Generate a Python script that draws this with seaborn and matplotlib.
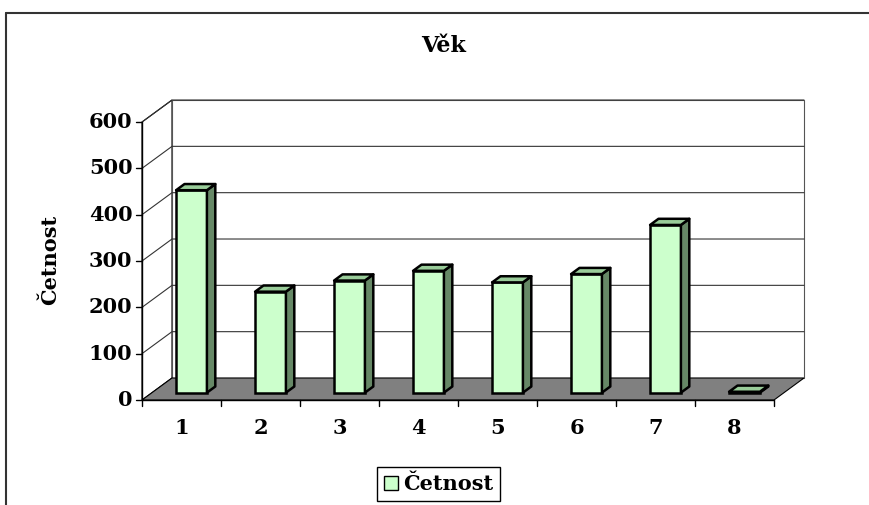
import matplotlib
matplotlib.use("Agg")
import matplotlib.pyplot as plt
from matplotlib.patches import Polygon, Patch
import seaborn as sns

# ---- data ----
categories = ["1", "2", "3", "4", "5", "6", "7", "8"]
values = [437, 218, 242, 263, 238, 256, 362, 2]
y_ticks = [0, 100, 200, 300, 400, 500, 600]
title = "Věk"
y_label = "Četnost"
legend_label = "Četnost"

# ---- colours ----
FACE = "#CCFFCC"
SIDE = "#668866"
TOP = "#99CC99"
FLOOR = "#808080"

sns.set_theme(style="white")
plt.rcParams["font.family"] = ["DejaVu Serif"]
plt.rcParams["text.color"] = "black"

W, H = 869, 505
fig = plt.figure(figsize=(W / 100, H / 100), dpi=100)
ax = fig.add_axes([0, 0, 1, 1])

# pixel mapping: x_px = X0 + (x+0.5)*PX ; y_px(from top) = Y0 - v*PV
X0, PX = 142.0, 79.0
Y0, PV = 400.0, 0.4633
DX = 30.0 / PX      # full depth in data units (x)
DV = 22.0 / PV      # full depth in data units (value)
F = 1.0 / 3.0       # bar front depth fraction
B = 0.28            # bar depth fraction
n = len(categories)
LW_BAR = 1.8

sns.barplot(x=categories, y=values, color=FACE, edgecolor="black",
            linewidth=LW_BAR, width=0.39, saturation=1, ax=ax, zorder=5)

xmin = -0.5 - X0 / PX
xmax = -0.5 + (W - X0) / PX
vmin = -(H - Y0) / PV
vmax = Y0 / PV
ax.set_xlim(xmin, xmax)
ax.set_ylim(vmin, vmax)
ax.axis("off")

def px2data(xp, yp):
    return xmin + xp / PX, vmax - yp / PV

# outer chart frame (top and left visible)
x_a, y_a = px2data(6, 13)
x_b, _ = px2data(W + 5, 13)
_, y_c = px2data(6, H + 5)
ax.plot([x_a, x_b], [y_a, y_a], color="#333333", lw=1.5, zorder=1, clip_on=False)
ax.plot([x_a, x_a], [y_a, y_c], color="#333333", lw=1.5, zorder=1, clip_on=False)

xl, xr = -0.5, n - 0.5
top = max(y_ticks)

# left side wall
ax.add_patch(Polygon([(xl, 0), (xl, top), (xl + DX, top + DV), (xl + DX, DV)],
                     closed=True, facecolor="white", edgecolor="black", lw=0.8, zorder=2))
# back wall
ax.add_patch(Polygon([(xl + DX, DV), (xl + DX, top + DV), (xr + DX, top + DV), (xr + DX, DV)],
                     closed=True, facecolor="white", edgecolor="#555555", lw=0.8, zorder=2))
# gridlines
for t in y_ticks[1:]:
    ax.plot([xl, xl + DX, xr + DX], [t, t + DV, t + DV], color="#333333", lw=0.8, zorder=3)

# floor
ax.add_patch(Polygon([(xl, 0), (xr, 0), (xr + DX, DV), (xl + DX, DV)],
                     closed=True, facecolor=FLOOR, edgecolor="black", lw=0.8, zorder=4))

# 3D bars from seaborn's patches
for p in list(ax.containers[0]):
    x, w, h = p.get_x(), p.get_width(), p.get_height()
    fx, fv = F * DX, F * DV
    bx, bv = (F + B) * DX, (F + B) * DV
    p.set_x(x + fx)
    p.set_y(fv)
    side = [(x + w + fx, fv), (x + w + fx, h + fv), (x + w + bx, h + bv), (x + w + bx, bv)]
    topf = [(x + fx, h + fv), (x + w + fx, h + fv), (x + w + bx, h + bv), (x + bx, h + bv)]
    ax.add_patch(Polygon(side, closed=True, facecolor=SIDE, edgecolor="black",
                         lw=LW_BAR, joinstyle="round", zorder=5))
    ax.add_patch(Polygon(topf, closed=True, facecolor=TOP, edgecolor="black",
                         lw=LW_BAR, joinstyle="round", zorder=5))

# front axes
ax.plot([xl, xl], [0, top], color="black", lw=1.0, zorder=6)
ax.plot([xl, xr], [0, 0], color="black", lw=1.0, zorder=6)
tick_x = 6.0 / PX
tick_v = 6.0 / PV
for t in y_ticks:
    ax.plot([xl - tick_x, xl], [t, t], color="black", lw=1.0, zorder=6)
    ax.text(xl - 9.5 / PX, t, f"{t}", ha="right", va="center",
            fontsize=15, fontweight="bold", color="black")
for i in range(n + 1):
    ax.plot([i - 0.5, i - 0.5], [0, -tick_v], color="black", lw=1.0, zorder=6)
for i, c in enumerate(categories):
    ax.text(i, -28 / PV, c, ha="center", va="center",
            fontsize=15, fontweight="bold", color="black")

# title and axis label
tx, ty = px2data(444, 46)
ax.text(tx, ty, title, ha="center", va="center", fontsize=16,
        fontweight="bold", color="black")
lx, ly = px2data(50, 260)
ax.text(lx, ly, y_label, ha="center", va="center", rotation=90,
        fontsize=15, fontweight="bold", color="black")

# legend
leg = ax.legend(handles=[Patch(facecolor=FACE, edgecolor="black", lw=1.0)],
                labels=[legend_label], loc="center",
                bbox_to_anchor=(438.5 / W, 1 - 484 / H),
                prop={"family": "DejaVu Serif", "weight": "bold", "size": 15},
                handlelength=0.65, handleheight=0.65, handletextpad=0.25,
                borderpad=0.35, fancybox=False, framealpha=1, edgecolor="black",
                labelcolor="black")
leg.get_frame().set_linewidth(1.0)

fig.savefig("out.png", dpi=100)
